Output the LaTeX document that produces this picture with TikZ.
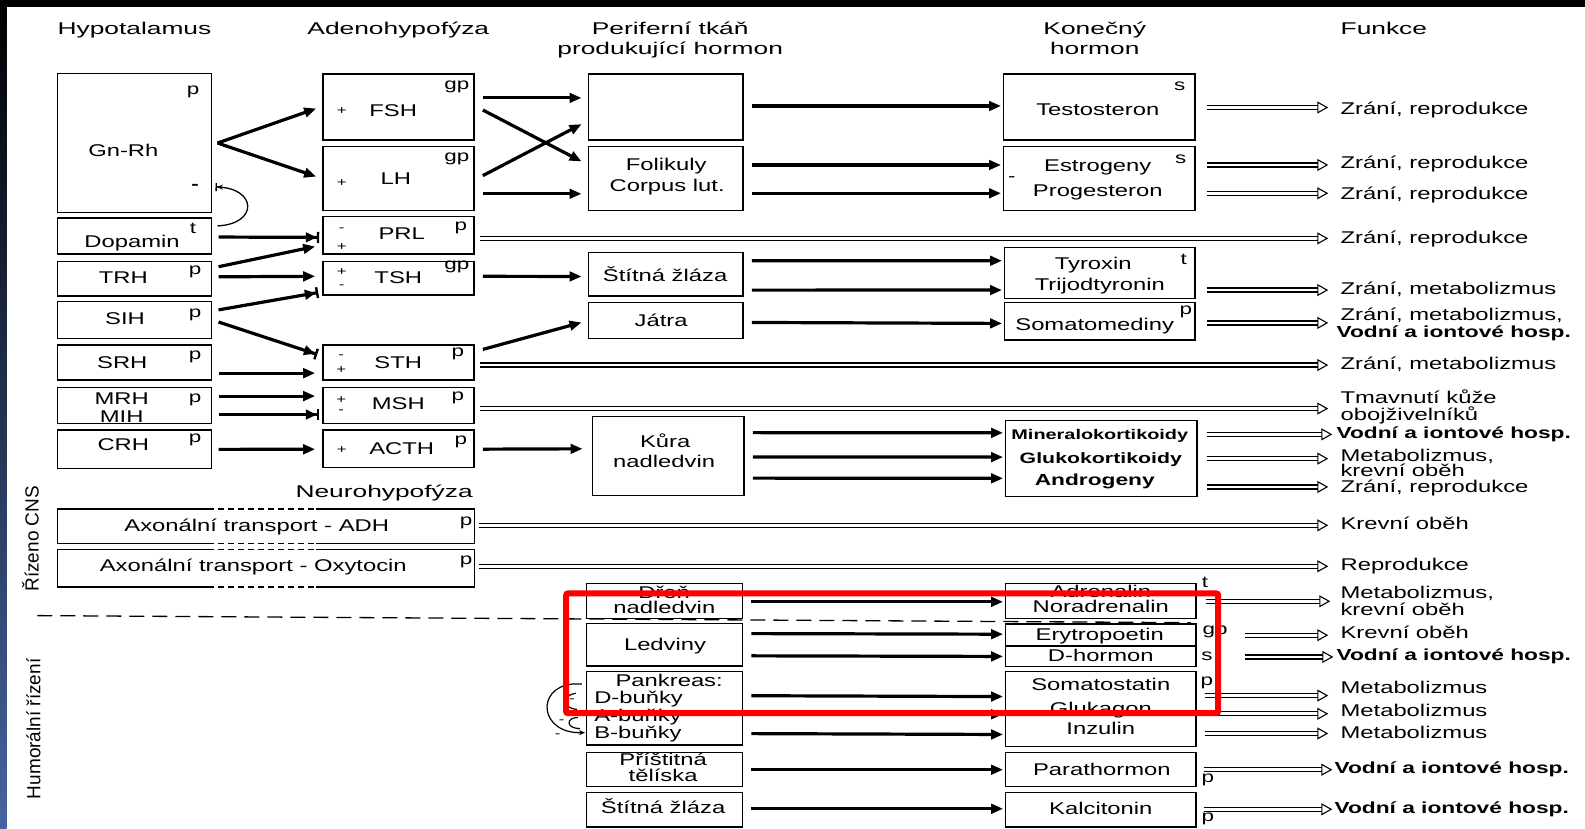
\documentclass[tikz,border=0pt]{standalone}
\usepackage{fontspec}
\setmainfont{Liberation Sans}[FakeStretch=1.4]
\newfontfamily\hdrfont{Liberation Sans}[FakeStretch=1.55]
\newfontfamily\sidefont{Liberation Sans}
\newfontfamily\bldfont{Liberation Sans}[FakeStretch=1.42]
\usetikzlibrary{arrows.meta,calc,fit}
\definecolor{redbox}{RGB}{255,0,0}
\definecolor{frameblue}{RGB}{70,100,160}
\newcommand\bx[5]{\node[box, fit={(#2,#3) (#4,#5)}] (#1) {};}
\newcommand\sarr[7][arr]{\draw[#1] ($(#2.east)+(#3,#4)$) -- ($(#5.west)+(#6,#7)$);}
\newcommand\darr[5]{\draw[dbl] ($(#1.east)+(#2,#3)$) -- ($(#1.east -| #4.west)+(#5,#3)$);}
\begin{document}
\begin{tikzpicture}[x=1.0108pt,y=-1.0108pt,
  box/.style={draw, line width=1.4pt, inner sep=0pt},
  tx/.style={inner sep=0pt, anchor=base, font=\fontsize{17}{17}\selectfont},
  lb/.style={inner sep=0pt, font=\fontsize{16}{16}\selectfont},
  sg/.style={inner sep=0pt, font=\fontsize{12}{12}\selectfont},
  hd/.style={inner sep=0pt, anchor=base, font=\hdrfont\fontsize{17}{17}\selectfont},
  bt/.style={inner sep=0pt, anchor=base, font=\bldfont\bfseries\fontsize{16}{16}\selectfont},
  fn/.style={tx, anchor=base west},
  fb/.style={bt, anchor=base west},
  side/.style={inner sep=0pt, rotate=90, font=\sidefont\fontsize{19}{19}\selectfont},
  arr/.style={line width=3.2pt, -{Triangle[length=12pt,width=9.5pt]}},
  inh/.style={line width=3.2pt, -{Triangle[length=11pt,width=9.5pt]Bar[width=11pt,line width=2.4pt]}},
  dbl/.style={double, double distance=2.6pt, line width=1.3pt, -{Triangle[open,length=11pt,width=12pt,line width=1.1pt]}},
  edge/.style={line width=1.4pt},
  thin/.style={line width=1.2pt},
]
\useasboundingbox (0,0) rectangle (1568,820);
\fill[white] (0,0) rectangle (1568,820);
\fill[black] (0,0) rectangle (1568,6.6);
\shade[top color=black, bottom color=frameblue] (0,0) rectangle (6.6,820);

% headers
\node[hd] (hHyp) at (133,34.5) {Hypotalamus};
\node[hd] (hAde) at (394,34.5) {Adenohypofýza};
\node[hd] (hPer1) at (663,34.5) {Periferní tkáň};
\node[hd] (hPer2) at (663,54) {produkující hormon};
\node[hd] (hKon1) at (1083,34.5) {Konečný};
\node[hd] (hKon2) at (1083,54) {hormon};
\node[hd] (hFun) at (1369,34.5) {Funkce};
\node[hd] (hNeu) at (380,492) {Neurohypofýza};

% side labels
\node[side] (cns) at (30,533) {Řízeno CNS};
\node[side] (hum) at (33,721) {Humorální řízení};

% Hypotalamus
\bx{gnrh}{57}{73}{209.5}{210}
\node[tx] (gnrhT) at (122,155) {Gn-Rh};
\node[lb] (gnrhP) at (191,91) {p};
\node[lb, font=\bfseries\fontsize{16}{16}\selectfont] (gnrhM) at (193,185) {-};
\bx{dop}{57}{215.7}{209.5}{251.3}
\node[tx] (dopT) at (130.7,244.4) {Dopamin};
\node[lb] (dopX) at (191,225.6) {t};
\bx{trh}{57}{258.9}{209.5}{292.8}
\node[tx] (trhT) at (122,280.3) {TRH};
\node[lb] (trhP) at (193,269) {p};
\bx{sih}{57}{298.4}{209.5}{334.7}
\node[tx] (sihT) at (123.7,321.5) {SIH};
\node[lb] (sihP) at (193,311.6) {p};
\bx{srh}{57}{341.3}{209.5}{376}
\node[tx] (srhT) at (121,364.4) {SRH};
\node[lb] (srhP) at (193,352.8) {p};
\bx{mrh}{57}{383.5}{209.5}{418.8}
\node[tx] (mrhT) at (120.4,399.7) {MRH};
\node[tx] (mihT) at (120.4,417.8) {MIH};
\node[lb] (mrhP) at (193,395.7) {p};
\bx{crh}{57}{425.4}{209.5}{463.3}
\node[tx] (crhT) at (122,445.8) {CRH};
\node[lb] (crhP) at (193,435.3) {p};

% Adenohypofyza
\bx{fsh}{319.5}{73.2}{469}{138.5}
\node[sg] (fshS) at (338,110) {+};
\node[tx] (fshT) at (389,115.4) {FSH};
\node[lb] (fshG) at (452,86) {gp};
\bx{lh}{319.5}{145}{469}{208.4}
\node[sg] (lhS) at (338,180.7) {+};
\node[tx] (lhT) at (391.6,183) {LH};
\node[lb] (lhG) at (452,157) {gp};
\bx{prl}{319.5}{214.4}{469}{251.3}
\node[sg] (prlS1) at (338,227.5) {-};
\node[sg] (prlS2) at (338,244) {+};
\node[tx] (prlT) at (397.4,236.5) {PRL};
\node[lb] (prlP) at (456,225) {p};
\bx{tsh}{319.5}{258.9}{469}{291.8}
\node[sg] (tshS1) at (338,268.8) {+};
\node[sg] (tshS2) at (338,283.6) {-};
\node[tx] (tshT) at (394,280.3) {TSH};
\node[lb] (tshG) at (452,263.8) {gp};
\bx{sth}{319.5}{341.3}{469}{376}
\node[sg] (sthS1) at (337.5,352.8) {-};
\node[sg] (sthS2) at (337.5,366) {+};
\node[tx] (sthT) at (394,364.4) {STH};
\node[lb] (sthP) at (453,350) {p};
\bx{msh}{319.5}{383.5}{469}{418.8}
\node[sg] (mshS1) at (337.5,395.7) {+};
\node[sg] (mshS2) at (337.5,407.3) {-};
\node[tx] (mshT) at (394,405.6) {MSH};
\node[lb] (mshP) at (453,394) {p};
\bx{acth}{319.5}{425.4}{469}{462.3}
\node[sg] (acthS) at (338,445.2) {+};
\node[tx] (acthT) at (397.4,450) {ACTH};
\node[lb] (acthP) at (456,437) {p};

% Neurohypofyza
\node[inner sep=0pt, fit={(57,503.9) (469,537.5)}] (adh) {};
\node[inner sep=0pt, fit={(57,544) (469,580.4)}] (oxy) {};
\foreach \n in {adh,oxy}{
  \draw[edge] ($(\n.north west)+(149,0)$) -- (\n.north west) -- (\n.south west) -- ($(\n.south west)+(149,0)$);
  \draw[edge] ($(\n.north west)+(256,0)$) -- (\n.north east) -- (\n.south east) -- ($(\n.south west)+(256,0)$);
  \draw[edge, dash pattern=on 6pt off 4pt] ($(\n.north west)+(149,0)$) -- ($(\n.north west)+(256,0)$);
  \draw[edge, dash pattern=on 6pt off 4pt] ($(\n.south west)+(149,0)$) -- ($(\n.south west)+(256,0)$);
}
\node[tx] (adhT) at (254,526) {Axonální transport - ADH};
\node[lb] (adhP) at (461,517.7) {p};
\node[tx] (oxyT) at (250.6,565.5) {Axonální transport - Oxytocin};
\node[lb] (oxyP) at (461,555.7) {p};

% Peripheral tissue
\bx{pempty}{582}{73.2}{735}{138.5}
\bx{fol}{582}{145}{735}{208.4}
\node[tx] (folT1) at (659,169) {Folikuly};
\node[tx] (folT2) at (660,189) {Corpus lut.};
\bx{stit}{582}{250}{735}{293}
\node[tx] (stitT) at (658,278) {Štítná žláza};
\bx{jat}{582}{299}{735}{335}
\node[tx] (jatT) at (654,323) {Játra};
\bx{kura}{586}{412}{736}{490}
\node[tx] (kuraT1) at (658,443) {Kůra};
\node[tx] (kuraT2) at (657,462) {nadledvin};
\bx{dren}{580.4}{577}{734.7}{611.7}
\node[tx] (drenT1) at (657,591.6) {Dřeň};
\node[tx] (drenT2) at (657.2,606.8) {nadledvin};
\bx{led}{580.4}{616.7}{734.7}{658.9}
\node[tx] (ledT) at (657.9,643.7) {Ledviny};
\bx{pank}{580.4}{664.5}{734.7}{737}
\node[tx] (pankT) at (662,679.3) {Pankreas:};
\node[tx, anchor=base west] (pankD) at (587.7,695.8) {D-buňky};
\node[tx, anchor=base west] (pankA) at (587.7,714) {A-buňky};
\node[tx, anchor=base west] (pankB) at (587.7,730.4) {B-buňky};
\bx{pris}{580.4}{744.6}{734.7}{778.3}
\node[tx] (prisT1) at (656,757.5) {Příštitná};
\node[tx] (prisT2) at (656,773) {tělíska};
\bx{stitb}{580.4}{784.2}{734.7}{818}
\node[tx] (stitbT) at (656,805) {Štítná žláza};

% Final hormone
\bx{testo}{993}{73.2}{1182}{138.5}
\node[tx] (testoT) at (1086,114) {Testosteron};
\node[lb] (testoS) at (1167,85) {s};
\bx{estro}{993}{145}{1182}{208.4}
\node[tx] (estroT1) at (1086,169.5) {Estrogeny};
\node[tx] (estroT2) at (1086,194.5) {Progesteron};
\node[lb] (estroS) at (1168,158) {s};
\node[lb] (estroM) at (1001,177) {-};
\bx{tyr}{994}{244.7}{1182}{295.2}
\node[tx] (tyrT1) at (1081.5,266.5) {Tyroxin};
\node[tx] (tyrT2) at (1088,287) {Trijodtyronin};
\node[lb] (tyrX) at (1171,257) {t};
\bx{soma}{994}{299.5}{1182}{336.4}
\node[tx] (somaT) at (1083,326.5) {Somatomediny};
\node[lb] (somaP) at (1173,308.3) {p};
\bx{mine}{995}{416}{1184}{491.4}
\node[bt, font=\bldfont\bfseries\fontsize{14}{14}\selectfont] (mineT1) at (1088,434.6) {Mineralokortikoidy};
\node[bt, font=\bldfont\bfseries\fontsize{15}{15}\selectfont] (mineT2) at (1089,458.4) {Glukokortikoidy};
\node[bt] (mineT3) at (1083,479.8) {Androgeny};
\bx{adr}{995}{577}{1183}{611.7}
\node[tx] (adrT1) at (1089,591.5) {Adrenalin};
\node[tx] (adrT2) at (1089,606) {Noradrenalin};
\node[lb] (adrX) at (1192,576.5) {t};
\bx{ery}{995}{617.3}{1183}{659.5}
\draw[edge] (ery.west |- 0,639) -- (ery.east |- 0,639);
\node[tx] (eryT1) at (1088,634) {Erytropoetin};
\node[tx] (eryT2) at (1089,654) {D-hormon};
\node[lb] (eryG) at (1202,625) {gp};
\node[lb] (eryS) at (1194,649) {s};
\bx{som}{995}{664.5}{1183}{738.7}
\node[tx] (somT1) at (1089,683) {Somatostatin};
\node[tx] (somT2) at (1089,707) {Glukagon};
\node[tx] (somT3) at (1089,727) {Inzulin};
\node[lb] (somP) at (1194,676) {p};
\bx{para}{995}{744.6}{1183}{778.3}
\node[tx] (paraT) at (1090,767) {Parathormon};
\node[lb] (paraP) at (1195,771.7) {p};
\bx{kalc}{995}{784.2}{1183}{818}
\node[tx] (kalcT) at (1089,806) {Kalcitonin};
\node[lb] (kalcP) at (1195,810) {p};

% Function texts
\node[fn] (f1) at (1326,113) {Zrání, reprodukce};
\node[fn] (f2) at (1326,166.5) {Zrání, reprodukce};
\node[fn] (f3) at (1326,197) {Zrání, reprodukce};
\node[fn] (f4) at (1326,240.7) {Zrání, reprodukce};
\node[fn] (f5) at (1326,291.8) {Zrání, metabolizmus};
\node[fn] (f6a) at (1326,316.6) {Zrání, metabolizmus,};
\node[fb] (f6b) at (1322,333.7) {Vodní a iontové hosp.};
\node[fn] (f7) at (1326,365.4) {Zrání, metabolizmus};
\node[fn] (f8a) at (1326,399) {Tmavnutí kůže};
\node[fn] (f8b) at (1326,415.5) {obojživelníků};
\node[fb] (f9) at (1322,433.6) {Vodní a iontové hosp.};
\node[fn] (f10a) at (1326,456.7) {Metabolizmus,};
\node[fn] (f10b) at (1326,470.9) {krevní oběh};
\node[fn] (f11) at (1326,487.4) {Zrání, reprodukce};
\node[fn] (f12) at (1326,524.3) {Krevní oběh};
\node[fn] (f13) at (1326,564) {Reprodukce};
\node[fn] (f14a) at (1326,592) {Metabolizmus,};
\node[fn] (f14b) at (1326,608.4) {krevní oběh};
\node[fn] (f15) at (1326,631.5) {Krevní oběh};
\node[fb] (f16) at (1322,653.6) {Vodní a iontové hosp.};
\node[fn] (f17) at (1326,686) {Metabolizmus};
\node[fn] (f18) at (1326,709) {Metabolizmus};
\node[fn] (f19) at (1326,730.4) {Metabolizmus};
\node[fb] (f20) at (1320,765) {Vodní a iontové hosp.};
\node[fb] (f21) at (1320,804.6) {Vodní a iontové hosp.};

% Hypothalamus -> adenohypophysis
\sarr{gnrh}{5}{0}{fsh}{-6}{1.5}
\sarr{gnrh}{5}{0}{lh}{-6}{-2}
\sarr[inh]{dop}{6}{1}{prl}{-3}{2}
\sarr{trh}{6}{-12}{prl}{-7}{11}
\sarr{trh}{6}{-2}{tsh}{-7}{-2}
\sarr[inh]{sih}{6}{-10}{tsh}{-4}{14}
\sarr[inh]{sih}{6}{2}{sth}{-5}{-8}
\sarr{srh}{6}{10.5}{sth}{-7}{10.5}
\sarr{mrh}{6}{-9.3}{msh}{-7}{-9.3}
\sarr[inh]{mrh}{6}{9}{msh}{-3}{9}
\sarr{crh}{6}{0.2}{acth}{-7}{0.6}
\draw[line width=1.3pt, -{Stealth[length=6pt,width=5pt]Bar[width=8pt,line width=1.3pt]}]
  ($(dop.east)+(5,-10)$) .. controls ($(dop.east)+(46,-12)$) and ($(gnrh.east)+(44,44)$) .. ($(gnrh.east)+(3,43.5)$);

% adenohypophysis -> periphery
\sarr{fsh}{8}{-9}{pempty}{-6}{-9}
\sarr{fsh}{8}{3}{fol}{-6}{-17}
\sarr{lh}{8}{-3}{pempty}{-6}{17}
\sarr{lh}{8}{15}{fol}{-6}{15}
\sarr{tsh}{8}{-2}{stit}{-6}{2}
\sarr{sth}{8}{-13}{jat}{-6}{2}
\sarr{acth}{8}{0.5}{kura}{-9}{-7}

% periphery -> final hormone
\sarr{pempty}{8}{-1}{testo}{-2}{-1}
\sarr{fol}{8}{-13.5}{estro}{-2}{-13.5}
\sarr{fol}{8}{14.5}{estro}{-2}{14.5}
\sarr{stit}{8}{-13.5}{tyr}{-2}{-12}
\sarr{stit}{8}{15.5}{tyr}{-2}{17}
\sarr{jat}{8}{2}{soma}{-2}{2}
\sarr{kura}{8}{-23}{mine}{-2}{-25.5}
\sarr{kura}{8}{1}{mine}{-2}{-1.5}
\sarr{kura}{8}{22}{mine}{-2}{19.5}
\sarr{dren}{8}{1}{adr}{-2}{1}
\sarr{led}{8}{-11}{ery}{-2}{-11}
\sarr{led}{8}{11}{ery}{-2}{11}
\sarr{pank}{8}{-12.5}{som}{-2}{-12.5}
\sarr{pank}{8}{5}{som}{-2}{5}
\sarr{pank}{8}{25}{som}{-2}{25}
\sarr{pris}{8}{0}{para}{-2}{0}
\sarr{stitb}{8}{-1}{kalc}{-2}{-1}

% pancreas feedback
\draw[thin, -{Stealth[length=6pt,width=5pt]}] ($(pank.west)+(-4,-24)$) -- ($(pank.west)+(-14,-24)$)
  .. controls ($(pank.west)+(-50,-20)$) and ($(pank.west)+(-46,25)$) .. ($(pank.west)+(-1,24)$);
\draw[thin] ($(pank.west)+(-10,-15)$) .. controls ($(pank.west)+(-24,-13)$) and ($(pank.west)+(-24,0)$) .. ($(pank.west)+(-9,1)$);
\draw[thin] ($(pank.west)+(-8,9)$) .. controls ($(pank.west)+(-20,9)$) and ($(pank.west)+(-20,20)$) .. ($(pank.west)+(-6,20)$);
\node[sg] (pm1) at ($(pank.west)+(-14,-8)$) {-};
\node[sg] (pm2) at ($(pank.west)+(-24,13)$) {-};
\node[sg] (pm3) at ($(pank.west)+(-28,27)$) {-};

% double arrows to functions
\darr{testo}{11}{0.5}{f1}{-12}
\darr{estro}{11}{-13.5}{f2}{-12}
\darr{estro}{11}{14.5}{f3}{-12}
\darr{prl}{5}{3}{f4}{-12}
\darr{tyr}{11}{17}{f5}{-12}
\darr{soma}{11}{1.5}{f6a}{-12}
\darr{sth}{5}{2.5}{f7}{-12}
\darr{msh}{5}{3}{f8a}{-12}
\darr{mine}{9}{-24}{f9}{-4}
\darr{mine}{9}{0}{f10a}{-12}
\darr{mine}{9}{28}{f11}{-12}
\darr{adh}{5}{-1}{f12}{-12}
\darr{oxy}{5}{-2}{f13}{-12}
\darr{adr}{9}{0.5}{f14a}{-10}
\darr{ery}{48}{-10}{f15}{-12}
\darr{ery}{48}{11.5}{f16}{-3}
\darr{som}{8}{-13.5}{f17}{-12}
\darr{som}{8}{4.5}{f18}{-12}
\darr{som}{8}{24}{f19}{-12}
\darr{para}{7}{0}{f20}{-2}
\darr{kalc}{7}{-0.5}{f21}{-2}

% separator
\draw[line width=1.3pt, dash pattern=on 15pt off 8pt] (37,609) -- (1178,616);

% highlight
\draw[redbox, line width=6pt, rounded corners=2pt] (560,587) rectangle (1205,705.5);
\end{tikzpicture}
\end{document}
